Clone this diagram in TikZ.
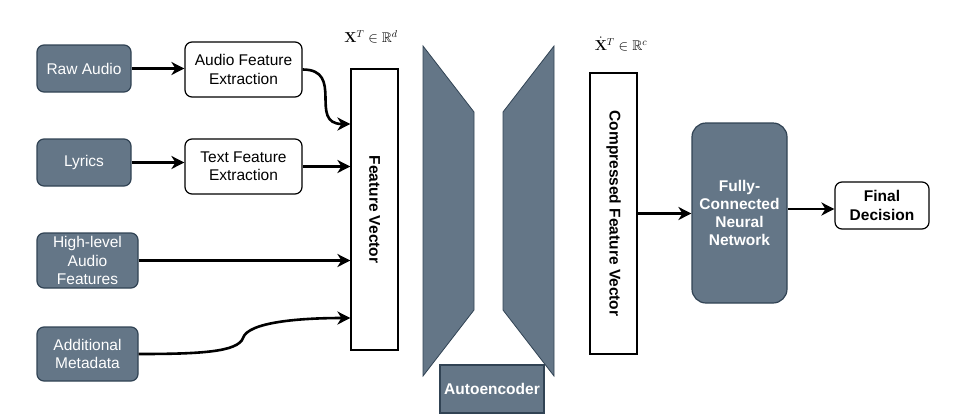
\documentclass[tikz,border=0pt]{standalone}
\usepackage{amsmath,amssymb}
\usepackage[no-math]{fontspec}
\setmainfont{Liberation Sans}
\usetikzlibrary{arrows.meta,calc}
\definecolor{slatefill}{HTML}{647687}
\definecolor{slatedraw}{HTML}{314354}
\tikzset{
  base/.style={font=\fontsize{15.5}{18.3}\selectfont, align=center, line width=1.2pt, inner sep=0pt},
  darkbox/.style={base, draw=slatedraw, fill=slatefill, text=white, rounded corners=7pt},
  whitebox/.style={base, draw=black, fill=white, text=black, rounded corners=7pt},
  vecbox/.style={base, draw=black, fill=white},
  vectext/.style={font=\fontsize{15.5}{18.3}\selectfont\bfseries, text=black, inner sep=0pt, rotate=-90},
  trap/.style={draw=slatedraw, fill=slatefill, line width=0.8pt},
  conn/.style={line width=2.6pt, -{Stealth[length=13pt,width=13pt,inset=4pt]}},
  mathlbl/.style={font=\fontsize{14}{16}\selectfont, inner sep=0pt}
}
\begin{document}
\begin{tikzpicture}[x=1pt,y=-1pt]
\useasboundingbox (0,0) rectangle (973,418);
% left inputs
\node[darkbox, minimum width=94pt, minimum height=47pt] (raw) at (84,68.5) {Raw Audio};
\node[darkbox, minimum width=94pt, minimum height=47pt] (lyr) at (84,162.5) {Lyrics};
\node[darkbox, minimum width=101pt, minimum height=55pt] (hl) at (87.5,260.5) {High-level\\Audio\\Features};
\node[darkbox, minimum width=101pt, minimum height=54pt] (meta) at (87.5,354) {Additional\\Metadata};
% extraction
\node[whitebox, minimum width=117pt, minimum height=55pt] (afe) at (243.5,69.5) {Audio Feature\\Extraction};
\node[whitebox, minimum width=117pt, minimum height=55pt] (tfe) at (243.5,166.5) {Text Feature\\Extraction};
% feature vector
\node[vecbox, minimum width=47pt, minimum height=281pt] (fv) at (374.5,209.5) {};
\node[vectext] (fvt) at (fv.center) {Feature Vector};
\node[mathlbl] (xl) at (371,37) {$\mathbf{X}^T \in \mathbb{R}^d$};
% autoencoder
\draw[trap] (423,46) -- (474,112) -- (474,310) -- (423,376) -- cycle;
\draw[trap] (554,46) -- (503,112) -- (503,310) -- (554,376) -- cycle;
\node[darkbox, rounded corners=0pt, minimum width=104pt, minimum height=48pt, font=\fontsize{15.5}{18.3}\selectfont\bfseries] (ae) at (492,389) {Autoencoder};
% compressed
\node[vecbox, minimum width=47pt, minimum height=281pt] (cfv) at (613.5,213.5) {};
\node[vectext] (cfvt) at (cfv.center) {Compressed Feature Vector};
\node[mathlbl] (xcl) at (621,44) {$\dot{\mathbf{X}}^T \in \mathbb{R}^c$};
% FCNN and decision
\node[darkbox, rounded corners=14pt, minimum width=95pt, minimum height=180pt, font=\fontsize{15.5}{18.3}\selectfont\bfseries] (fc) at (739.5,213) {Fully-\\Connected\\Neural\\Network};
\node[whitebox, minimum width=94pt, minimum height=47pt, font=\fontsize{15.5}{18.3}\selectfont\bfseries] (fd) at (882,205.5) {Final\\Decision};
% coordinates
\coordinate (fvA) at (fv.west |- 0,124);
\coordinate (fvD) at (fv.west |- 0,318);
\coordinate (fdin) at (fd.west |- 0,209);
\coordinate (fcout) at (fc.east |- 0,209);
\coordinate (mw) at (243,338);
% connectors
\draw[conn] (raw.east) -- (raw.east -| afe.west);
\draw[conn] (lyr.east) -- (lyr.east -| tfe.west);
\draw[conn] (afe.east) to[out=0,in=180,looseness=1.5] (fvA);
\draw[conn] (tfe.east) -- (tfe.east -| fv.west);
\draw[conn] (hl.east) -- (hl.east -| fv.west);
\draw[conn] (meta.east) .. controls (200,354) and (238,352) .. (mw) .. controls (248,322) and (300,318) .. (fvD);
\draw[conn] (cfv.east) -- (cfv.east -| fc.west);
\draw[conn] (fcout) -- (fdin);
\end{tikzpicture}
\end{document}
